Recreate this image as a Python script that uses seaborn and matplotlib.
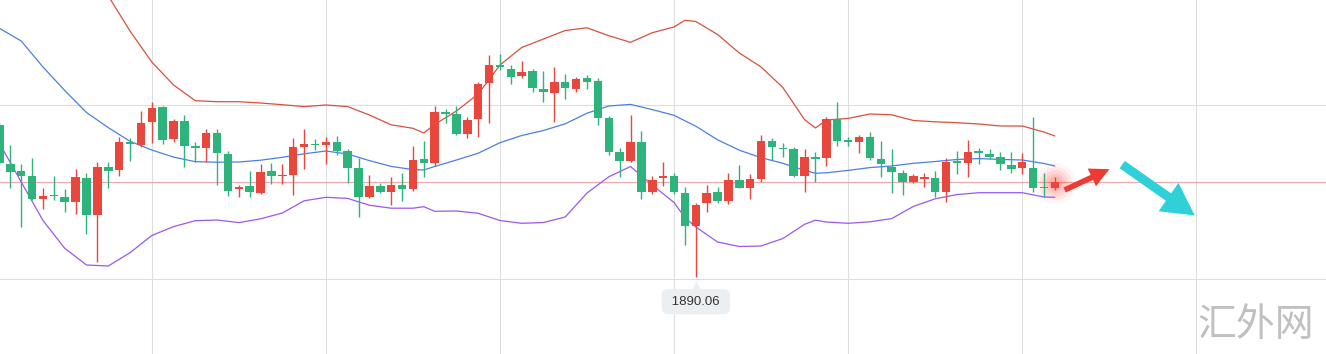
import numpy as np
import pandas as pd
import matplotlib
matplotlib.use("Agg")
import matplotlib.pyplot as plt
from matplotlib.patches import FancyArrowPatch
from matplotlib.transforms import offset_copy
import seaborn as sns

# candles (red = up, green = down)
opens = [1905.3, 1901.4, 1900.7, 1900.2, 1897.87, 1898.3, 1898.13, 1897.63, 1899.97, 1896.3,
         1901.07, 1900.8, 1903.57, 1903.3, 1905.63, 1907.07, 1903.87, 1905.7, 1903.2, 1902.97,
         1904.47, 1902.37, 1898.87, 1899.2, 1898.53, 1900.7, 1900.2, 1900.3, 1903.13, 1903.37,
         1903.3, 1903.57, 1902.7, 1900.97, 1898.13, 1899.2, 1898.63, 1899.27, 1898.9, 1901.9,
         1901.53, 1906.6, 1906.4, 1904.37, 1905.87, 1909.47, 1911.3, 1910.87, 1910.23, 1910.7,
         1908.87, 1908.47, 1909.63, 1908.87, 1910.03, 1909.7, 1906.03, 1902.63, 1901.73, 1903.63,
         1898.57, 1899.97, 1900.2, 1898.47, 1895.23, 1897.47, 1898.57, 1897.7, 1899.8, 1899.03,
         1899.9, 1903.73, 1903.03, 1902.87, 1900.23, 1902.07, 1901.97, 1905.87, 1903.8, 1903.63,
         1904.07, 1901.9, 1901.13, 1900.5, 1899.63, 1899.93, 1899.97, 1898.57, 1901.73, 1901.47,
         1902.73, 1902.4, 1902.07, 1901.3, 1901.03, 1900.97, 1899.07, 1898.97]
closes = [1901.53, 1900.63, 1900.23, 1897.87, 1898.2, 1898.2, 1897.63, 1900.07, 1896.3, 1901.07,
          1900.73, 1903.57, 1903.4, 1905.53, 1906.97, 1903.8, 1905.7, 1903.23, 1902.97, 1904.47,
          1902.47, 1898.73, 1899.07, 1898.57, 1900.63, 1900.23, 1900.3, 1903.07, 1903.37, 1903.27,
          1903.57, 1902.73, 1900.97, 1898.13, 1899.2, 1898.63, 1899.27, 1898.93, 1901.8, 1901.53,
          1906.57, 1906.4, 1904.37, 1905.8, 1909.37, 1911.3, 1911.13, 1910.13, 1910.63, 1908.97,
          1908.57, 1909.57, 1908.97, 1909.9, 1909.63, 1905.97, 1902.63, 1901.73, 1903.63, 1898.57,
          1899.8, 1900.2, 1898.57, 1895.23, 1897.3, 1898.47, 1897.7, 1899.8, 1899.03, 1899.9,
          1903.7, 1903.07, 1902.93, 1900.23, 1902.07, 1901.93, 1905.9, 1903.73, 1903.63, 1904.07,
          1901.97, 1901.37, 1900.57, 1899.57, 1900.2, 1900.07, 1898.57, 1901.57, 1901.47, 1902.63,
          1902.47, 1902.13, 1901.4, 1900.93, 1901.6, 1898.97, 1898.97, 1899.65]
highs = [1905.6, 1903.3, 1901.4, 1902.0, 1899.0, 1900.2, 1898.9, 1900.87, 1900.47, 1901.57,
         1901.63, 1904.13, 1904.03, 1906.73, 1907.57, 1907.2, 1905.9, 1906.3, 1903.63, 1904.87,
         1904.87, 1902.7, 1899.3, 1900.73, 1901.4, 1901.47, 1901.4, 1903.97, 1904.87, 1903.9,
         1904.07, 1904.2, 1902.87, 1901.97, 1900.3, 1899.47, 1900.13, 1900.53, 1903.2, 1903.73,
         1907.23, 1906.9, 1907.2, 1906.07, 1909.63, 1912.3, 1912.37, 1911.3, 1911.73, 1910.87,
         1910.73, 1911.13, 1910.4, 1910.07, 1910.3, 1910.03, 1906.23, 1902.97, 1906.3, 1904.73,
         1900.23, 1901.63, 1900.47, 1899.13, 1897.47, 1899.3, 1899.13, 1900.47, 1901.3, 1900.4,
         1904.3, 1903.97, 1903.53, 1903.07, 1902.87, 1902.57, 1906.13, 1907.63, 1904.13, 1904.3,
         1904.57, 1903.7, 1902.87, 1900.85, 1900.4, 1900.53, 1900.73, 1902.03, 1902.73, 1903.8,
         1903.03, 1902.87, 1902.63, 1902.63, 1902.47, 1906.13, 1900.53, 1900.13]
lows = [1901.3, 1899.03, 1895.13, 1897.8, 1896.9, 1897.8, 1896.63, 1896.4, 1894.37, 1891.57,
        1899.03, 1900.23, 1901.7, 1903.13, 1903.47, 1903.37, 1903.57, 1901.13, 1901.63, 1901.63,
        1899.3, 1898.23, 1898.13, 1898.13, 1898.4, 1899.4, 1899.4, 1898.3, 1900.9, 1902.8,
        1901.4, 1902.3, 1899.47, 1896.13, 1897.97, 1898.47, 1897.3, 1897.7, 1898.73, 1900.13,
        1901.2, 1905.47, 1904.3, 1903.97, 1904.07, 1905.47, 1910.8, 1909.37, 1909.97, 1908.57,
        1907.57, 1905.63, 1907.9, 1908.57, 1908.9, 1905.3, 1902.3, 1900.13, 1901.63, 1897.87,
        1898.4, 1899.23, 1898.4, 1893.3, 1890.06, 1896.63, 1897.47, 1897.4, 1898.97, 1897.87,
        1899.57, 1901.8, 1902.13, 1900.07, 1898.63, 1899.63, 1901.2, 1903.2, 1903.23, 1902.47,
        1901.8, 1900.13, 1898.53, 1898.3, 1899.47, 1899.07, 1898.13, 1897.63, 1900.4, 1900.13,
        1901.4, 1901.9, 1900.8, 1900.47, 1900.4, 1898.63, 1898.13, 1898.8]

# Bollinger bands, read at these candle positions
band_idx = [0, 2, 4, 6, 8, 10, 12, 14, 16, 18, 20, 22, 24, 26, 28, 30, 32, 34, 36, 38, 39, 40,
            42, 44, 46, 48, 50, 52, 54, 56, 58, 60, 62, 63, 64, 66, 68, 70, 72, 74, 75, 76,
            78, 80, 82, 84, 86, 88, 90, 92, 94, 96, 97]
upper = [1926.5, 1926.0, 1925.0, 1923.6, 1921.3, 1918.2, 1914.7, 1911.6, 1909.3, 1907.73,
         1907.63, 1907.63, 1907.5, 1907.33, 1907.14, 1907.3, 1907.14, 1906.3, 1905.32, 1904.97,
         1904.5, 1905.35, 1906.7, 1908.4, 1911.3, 1913.05, 1913.9, 1914.75, 1915.02, 1914.23,
         1913.57, 1914.53, 1915.1, 1915.77, 1915.65, 1914.35, 1912.5, 1911.1, 1909.05, 1905.83,
         1905.0, 1905.8, 1905.96, 1906.4, 1906.32, 1905.75, 1905.62, 1905.53, 1905.4, 1905.2,
         1905.2, 1904.6, 1904.2]
middle = [1914.97, 1913.7, 1911.1, 1908.75, 1906.55, 1905.04, 1903.67, 1902.8, 1902.09, 1901.63,
          1901.58, 1901.6, 1901.78, 1902.07, 1902.42, 1902.7, 1902.4, 1901.74, 1901.16, 1900.84,
          1900.8, 1901.15, 1901.8, 1902.48, 1903.53, 1904.25, 1904.75, 1905.42, 1906.48, 1907.2,
          1907.36, 1906.84, 1906.27, 1905.72, 1905.18, 1903.82, 1902.78, 1902.03, 1901.47, 1900.76,
          1900.47, 1900.52, 1900.76, 1901.04, 1901.2, 1901.47, 1901.65, 1901.85, 1901.94, 1901.86,
          1901.8, 1901.45, 1901.2]
lower = [1903.47, 1899.6, 1895.75, 1892.97, 1891.3, 1891.2, 1892.53, 1894.25, 1895.14, 1895.73,
         1895.8, 1895.54, 1895.92, 1896.5, 1897.72, 1898.07, 1897.96, 1897.28, 1896.98, 1896.98,
         1897.13, 1896.67, 1896.7, 1896.47, 1895.75, 1895.47, 1895.55, 1896.1, 1898.5, 1900.12,
         1901.15, 1899.3, 1897.55, 1896.05, 1895.1, 1893.6, 1893.15, 1893.2, 1893.95, 1895.37,
         1895.78, 1895.6, 1895.47, 1895.62, 1895.94, 1897.16, 1897.92, 1898.34, 1898.53, 1898.53,
         1898.53, 1898.1, 1898.07]

grid_x = [14, 30, 46, 62, 78, 94, 110]
grid_y = [1889.87, 1907.27]

RED = "#e8473d"
GREEN = "#2eb37d"

sns.set_style("white")
plt.rcParams["font.family"] = ["Liberation Sans", "Noto Sans CJK SC", "DejaVu Sans"]

fig = plt.figure(figsize=(13.26, 3.54), dpi=100)
ax = fig.add_axes([0, 0, 1, 1])

o = np.array(opens)
c = np.array(closes)
idx = np.arange(len(o))
colors = np.where(c >= o, RED, GREEN)

# wicks and bodies
ax.vlines(idx, lows, highs, colors=colors, lw=1, zorder=3)
body = np.maximum(np.abs(c - o), 0.1)
ax.bar(idx, body, bottom=np.minimum(o, c), width=0.78, color=colors, linewidth=0, zorder=4)

bands = pd.DataFrame({"i": band_idx, "upper": upper, "middle": middle, "lower": lower})
sns.lineplot(data=bands, x="i", y="upper", ax=ax, color="#d9503f", lw=0.9, zorder=2)
sns.lineplot(data=bands, x="i", y="middle", ax=ax, color="#4b7fe6", lw=0.9, zorder=2)
sns.lineplot(data=bands, x="i", y="lower", ax=ax, color="#9a58ee", lw=0.9, zorder=2)

# last price line
ax.axhline(closes[-1], color="#eeaaaa", lw=0.8, zorder=1)

# glow on the last candle
for s, a in zip([850, 560, 360, 200, 100], [0.05, 0.07, 0.09, 0.11, 0.14]):
    ax.scatter(idx[-1], closes[-1] - 0.1, s=s, color="#ff3b30", alpha=a, lw=0, zorder=2)

# low label
lo = int(np.argmin(lows))
ax.annotate(f" {lows[lo]:.2f} ", xy=(lo, lows[lo]), xytext=(0, -17.5), textcoords="offset points",
            ha="center", va="center", fontsize=9.5, color="#333333",
            bbox=dict(boxstyle="round,pad=0.5", fc="#eceff2", ec="none"), zorder=6)
ax.plot([lo], [lows[lo]], marker="^", ms=7, color="#eceff2", mec="none", zorder=6,
        transform=offset_copy(ax.transData, fig=fig, y=-6.5, units="points"))

# direction arrows
ax.add_patch(FancyArrowPatch((0.8010, 0.4600), (0.8386, 0.5254), transform=ax.transAxes,
                             arrowstyle="simple,head_length=1.4,head_width=1.4,tail_width=0.4",
                             mutation_scale=10, color="#ee3a33", lw=0, zorder=5))
ax.add_patch(FancyArrowPatch((0.8446, 0.5395), (0.9027, 0.3870), transform=ax.transAxes,
                             arrowstyle="simple,head_length=2.3,head_width=2.5,tail_width=0.65",
                             mutation_scale=10, color="#2fd0d8", lw=0, zorder=5))

ax.set_xlim(0.05, 121.92)
ax.set_ylim(1882.4, 1917.8)
ax.set_xticks(grid_x)
ax.set_yticks(grid_y)
ax.grid(True, color="#dedede", lw=0.8)
ax.set_axisbelow(True)
ax.tick_params(length=0, labelbottom=False, labelleft=False)
ax.set_xlabel("")
ax.set_ylabel("")
for sp in ax.spines.values():
    sp.set_visible(False)

fig.text(0.947, 0.082, "汇外网", family=["Noto Sans CJK SC"], fontsize=28, color="#c0c0c0",
         ha="center", va="center")

fig.savefig("out.png", dpi=100)
